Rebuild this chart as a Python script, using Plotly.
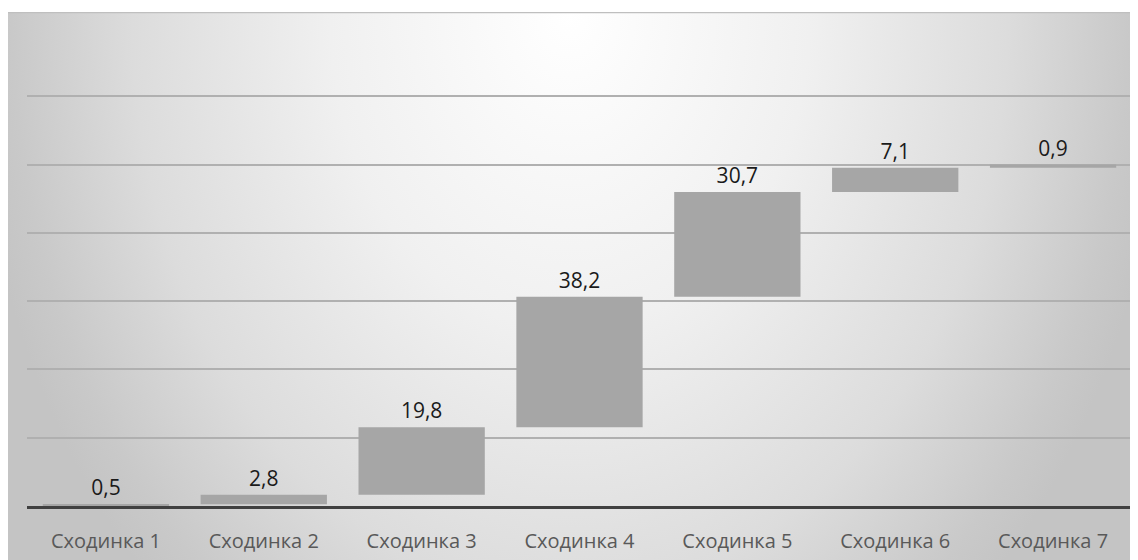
import base64
import plotly.graph_objects as go

categories = ["Сходинка 1", "Сходинка 2", "Сходинка 3", "Сходинка 4",
              "Сходинка 5", "Сходинка 6", "Сходинка 7"]
values = [0.5, 2.8, 19.8, 38.2, 30.7, 7.1, 0.9]
grid_ticks = [0, 20, 40, 60, 80, 100, 120]

W, H = 1138, 560
L, R, T, B = 19, 14, 20, 62
PW, PH = W - L - R, H - T - B

# radial gradient background as svg image (figure coords)
bg_x, bg_y = 0, 4
bg_w, bg_h = 1138, 556
cx = 562
svg = f'''<svg xmlns="http://www.w3.org/2000/svg" width="{bg_w}" height="{bg_h}" viewBox="0 0 {bg_w} {bg_h}" preserveAspectRatio="none">
<defs><radialGradient id="g" gradientUnits="userSpaceOnUse" cx="{cx}" cy="0" r="600"
 gradientTransform="translate({cx} 0) scale(1 1.33) translate(-{cx} 0)">
<stop offset="0" stop-color="#ffffff"/>
<stop offset="0.4" stop-color="#f0f0f0"/>
<stop offset="0.73" stop-color="#dcdcdc"/>
<stop offset="0.93" stop-color="#c9c9c9"/>
<stop offset="1" stop-color="#c4c4c4"/>
</radialGradient></defs>
<rect x="0" y="0" width="{bg_w}" height="{bg_h}" fill="url(#g)"/>
<line x1="0" y1="0.5" x2="{bg_w}" y2="0.5" stroke="#bfbfbf" stroke-width="1.5"/>
</svg>'''
src = "data:image/svg+xml;base64," + base64.b64encode(svg.encode()).decode()

labels = [f"{v:.1f}".replace(".", ",") for v in values]

fig = go.Figure(go.Waterfall(
    x=categories,
    y=values,
    measure=["relative"] * len(values),
    text=labels,
    textposition="outside",
    textfont=dict(family="Open Sans", size=21, color="#1a1a1a"),
    increasing=dict(marker=dict(color="#a6a6a6")),
    decreasing=dict(marker=dict(color="#a6a6a6")),
    connector=dict(visible=False),
    cliponaxis=False,
    hoverinfo="skip",
))

fig.add_layout_image(dict(
    source=src, xref="paper", yref="paper",
    x=(bg_x - L) / PW, y=(H - B - bg_y) / PH,
    sizex=bg_w / PW, sizey=bg_h / PH,
    xanchor="left", yanchor="top", sizing="stretch", layer="below",
))

fig.update_layout(
    width=W, height=H,
    margin=dict(l=L, r=R, t=T, b=B, pad=0),
    paper_bgcolor="white",
    plot_bgcolor="rgba(0,0,0,0)",
    showlegend=False,
    bargap=0.208,
    font=dict(family="Open Sans"),
    xaxis=dict(
        showgrid=False, showline=True, linecolor="#404040", linewidth=3,
        ticks="", ticklabelstandoff=15,
        tickfont=dict(family="Open Sans", size=20, color="#595959"),
    ),
    yaxis=dict(
        range=[0, 140], tickvals=grid_ticks, showticklabels=False,
        showgrid=True, gridcolor="#b0b0b0", gridwidth=1.5,
        zeroline=False, showline=False,
    ),
)

fig.write_html("out.html")
